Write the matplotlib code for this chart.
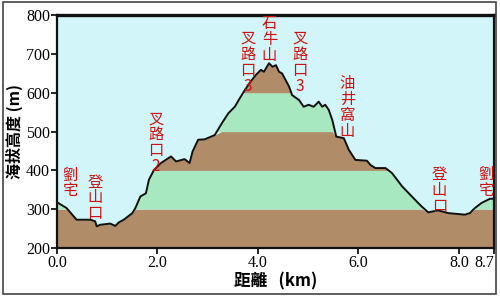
import matplotlib
matplotlib.use("Agg")
import matplotlib.pyplot as plt
import numpy as np
from matplotlib.patches import Rectangle

# profile (km, m)
dist_km = [0.0, 0.19, 0.39, 0.66, 0.76, 0.79, 0.86, 1.06, 1.16, 1.23, 1.33, 1.50, 1.56,
           1.66, 1.77, 1.83, 1.93, 2.07, 2.27, 2.37, 2.54, 2.64, 2.70, 2.81, 2.94, 3.14,
           3.28, 3.41, 3.54, 3.64, 3.74, 3.85, 3.96, 4.06, 4.12, 4.22, 4.29, 4.36, 4.42,
           4.48, 4.55, 4.62, 4.68, 4.82, 4.91, 5.01, 5.11, 5.21, 5.28, 5.34, 5.41, 5.48,
           5.56, 5.71, 5.81, 5.94, 6.17, 6.24, 6.34, 6.54, 6.67, 6.87, 7.13, 7.26, 7.39,
           7.59, 7.79, 8.12, 8.22, 8.32, 8.45, 8.62, 8.70]
elev_m = [318, 303, 273, 273, 269, 256, 260, 263, 257, 266, 273, 290, 303,
          333, 341, 376, 401, 419, 436, 423, 429, 419, 449, 479, 480, 491,
          521, 547, 564, 586, 607, 628, 646, 659, 654, 676, 667, 671, 654,
          650, 633, 616, 594, 581, 564, 569, 564, 577, 564, 569, 556, 530,
          487, 483, 453, 427, 425, 414, 406, 406, 393, 359, 324, 307, 292,
          297, 290, 286, 290, 303, 316, 327, 327]

band_edges = [200, 300, 400, 500, 600, 700]
band_colors = ["#b08c68", "#a8e8c0", "#b08c68", "#a8e8c0", "#b08c68"]

x_ticks = [0.0, 2.0, 4.0, 6.0, 8.0, 8.7]
x_tick_labels = ["0.0", "2.0", "4.0", "6.0", "8.0", "8.7"]
y_ticks = [200, 300, 400, 500, 600, 700, 800]

# place names: (km, top elevation of text, name)
place_km = [0.26, 0.76, 1.97, 3.80, 4.23, 4.84, 5.78, 7.61, 8.54]
place_top = [410, 392, 555, 762, 800, 762, 645, 412, 412]
place_names = ["劉宅", "登山口", "叉路口2", "叉路口3", "石牛山", "叉路口3", "油井窩山", "登山口", "劉宅"]

cjk = ["Noto Sans CJK TC", "DejaVu Sans"]
serif = "Liberation Serif"

x = np.array(dist_km)
y = np.array(elev_m)

fig = plt.figure(figsize=(5, 2.96), dpi=100)
fig.patch.set_facecolor("white")
fig.patches.append(Rectangle((0.006, 0.006), 0.986, 0.986, transform=fig.transFigure,
                             fill=False, edgecolor="#444444", linewidth=1.2))
ax = fig.add_axes([0.114, 0.162, 0.874, 0.787])
ax.set_facecolor("#d2f5f9")

for lo, hi, c in zip(band_edges[:-1], band_edges[1:], band_colors):
    ax.fill_between(x, lo, np.minimum(y, hi), where=y > lo, interpolate=True,
                    color=c, linewidth=0)
ax.plot(x, y, color="#111111", linewidth=1.4)

for km, top, name in zip(place_km, place_top, place_names):
    ax.text(km, top, "\n".join(name), color="#d01010", fontsize=11, family=cjk,
            ha="center", va="top", linespacing=0.92)

ax.set_xlim(0, 8.7)
ax.set_ylim(200, 800)
ax.set_xticks(x_ticks)
ax.set_xticklabels(x_tick_labels)
ax.set_yticks(y_ticks)
for lab in ax.get_xticklabels() + ax.get_yticklabels():
    lab.set_family(serif)
    lab.set_fontsize(11.5)
ax.get_xticklabels()[-1].set_horizontalalignment("right")
ax.tick_params(direction="out", length=4, width=1.2, pad=1)
for s in ax.spines.values():
    s.set_linewidth(1.6)
    s.set_color("#111111")
ax.spines["top"].set_linewidth(2.4)

ax.set_ylabel("海拔高度 (m)", family=cjk, fontsize=11.5, fontweight="bold", labelpad=2)
ax.set_xlabel("距離   (km)", family=cjk, fontsize=12, fontweight="bold", labelpad=1)

fig.savefig("out.png", dpi=100)
